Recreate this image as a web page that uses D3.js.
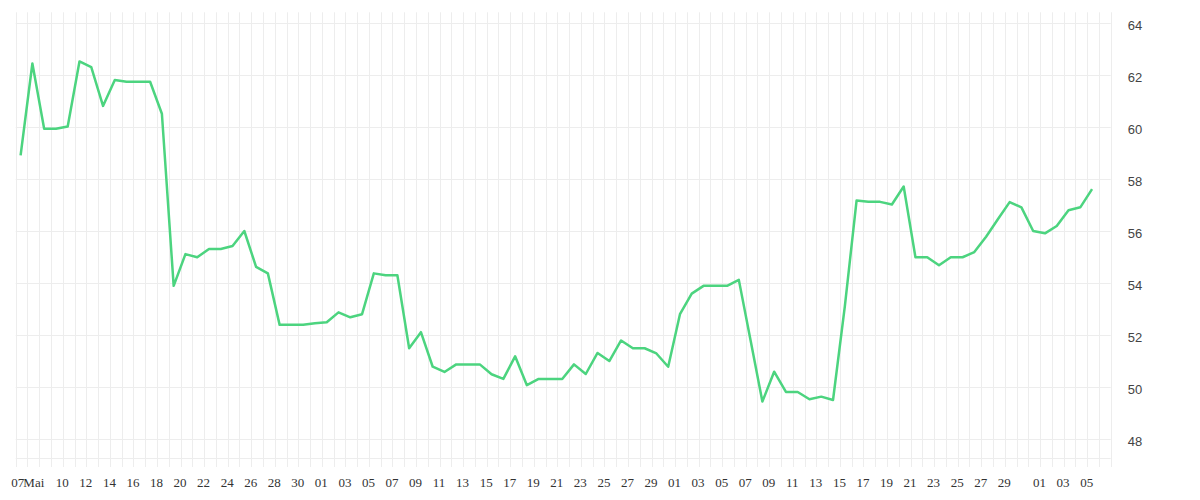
<!DOCTYPE html>
<html>
<head>
<meta charset="utf-8">
<script src="https://cdn.jsdelivr.net/npm/d3@7"></script>
<style>
  html, body { margin: 0; padding: 0; background: #fff; }
  svg { display: block; }
</style>
</head>
<body>
<svg id="svgmain" width="1200" height="500"></svg>
<script>
// one value per day, taken around mid-morning
var days = [
  "2023-05-06","2023-05-07","2023-05-08","2023-05-09","2023-05-10","2023-05-11","2023-05-12","2023-05-13",
  "2023-05-14","2023-05-15","2023-05-16","2023-05-17","2023-05-18","2023-05-19","2023-05-20","2023-05-21",
  "2023-05-22","2023-05-23","2023-05-24","2023-05-25","2023-05-26","2023-05-27","2023-05-28","2023-05-29",
  "2023-05-30","2023-05-31","2023-06-01","2023-06-02","2023-06-03","2023-06-04","2023-06-05","2023-06-06",
  "2023-06-07","2023-06-08","2023-06-09","2023-06-10","2023-06-11","2023-06-12","2023-06-13","2023-06-14",
  "2023-06-15","2023-06-16","2023-06-17","2023-06-18","2023-06-19","2023-06-20","2023-06-21","2023-06-22",
  "2023-06-23","2023-06-24","2023-06-25","2023-06-26","2023-06-27","2023-06-28","2023-06-29","2023-06-30",
  "2023-07-01","2023-07-02","2023-07-03","2023-07-04","2023-07-05","2023-07-06","2023-07-07","2023-07-08",
  "2023-07-09","2023-07-10","2023-07-11","2023-07-12","2023-07-13","2023-07-14","2023-07-15","2023-07-16",
  "2023-07-17","2023-07-18","2023-07-19","2023-07-20","2023-07-21","2023-07-22","2023-07-23","2023-07-24",
  "2023-07-25","2023-07-26","2023-07-27","2023-07-28","2023-07-29","2023-07-30","2023-07-31","2023-08-01",
  "2023-08-02","2023-08-03","2023-08-04","2023-08-05"
]
var values = [
  58.92, 62.45, 59.94, 59.94, 60.03, 62.53, 62.31, 60.82, 61.82, 61.75, 61.75, 61.75, 60.52, 53.90,
  55.12, 55.00, 55.32, 55.32, 55.43, 56.01, 54.63, 54.38, 52.40, 52.40, 52.40, 52.46, 52.50, 52.88,
  52.69, 52.81, 54.38, 54.31, 54.31, 51.50, 52.12, 50.79, 50.59, 50.88, 50.88, 50.88, 50.50, 50.32,
  51.19, 50.08, 50.32, 50.32, 50.32, 50.88, 50.51, 51.32, 51.01, 51.80, 51.50, 51.50, 51.30, 50.79,
  52.81, 53.60, 53.90, 53.90, 53.90, 54.13, 51.80, 49.45, 50.60, 49.82, 49.82, 49.54, 49.64, 49.51,
  53.10, 57.18, 57.13, 57.13, 57.03, 57.72, 55.00, 55.00, 54.69, 55.00, 55.00, 55.20, 55.79, 56.46,
  57.12, 56.92, 56.01, 55.92, 56.20, 56.81, 56.92, 57.62
]
var tickDates = [
  "2023-05-06T05:00","2023-05-07T14:00","2023-05-10","2023-05-12","2023-05-14","2023-05-16","2023-05-18",
  "2023-05-20","2023-05-22","2023-05-24","2023-05-26","2023-05-28","2023-05-30",
  "2023-06-01","2023-06-03","2023-06-05","2023-06-07","2023-06-09","2023-06-11","2023-06-13","2023-06-15",
  "2023-06-17","2023-06-19","2023-06-21","2023-06-23","2023-06-25","2023-06-27","2023-06-29",
  "2023-07-01","2023-07-03","2023-07-05","2023-07-07","2023-07-09","2023-07-11","2023-07-13","2023-07-15",
  "2023-07-17","2023-07-19","2023-07-21","2023-07-23","2023-07-25","2023-07-27","2023-07-29",
  "2023-08-01","2023-08-03","2023-08-05"
]
var tickLabels = [
  "07","Mai","10","12","14","16","18","20","22","24","26","28","30",
  "01","03","05","07","09","11","13","15","17","19","21","23","25","27","29",
  "01","03","05","07","09","11","13","15","17","19","21","23","25","27","29",
  "01","03","05"
]
var yTicks = [48, 50, 52, 54, 56, 58, 60, 62, 64]

var plotLeft = 15.7, plotRight = 1110.7, plotTop = 12.3, plotBottom = 458
var parseDay = d3.timeParse("%Y-%m-%d")
var parseTick = function(s) {
  return s.length > 10 ? d3.timeParse("%Y-%m-%dT%H:%M")(s) : parseDay(s)
}
var points = days.map(function(d, i) {
  return { date: d3.timeHour.offset(parseDay(d), 10), value: values[i] }
})

var x = d3.scaleTime()
  .domain([parseDay("2023-05-06"), parseDay("2023-08-07")])
  .range([plotLeft, plotRight])
var y = d3.scaleLinear()
  .domain([47.28, 64.42])
  .range([plotBottom, plotTop])

var svg = d3.select("#svgmain")
var grid = svg.append("g").attr("class", "grid")

// daily vertical lines, running past the baseline as tick marks
grid.selectAll("line.v")
  .data(d3.timeDay.range(x.domain()[0], d3.timeDay.offset(x.domain()[1], 1)))
  .join("line")
  .attr("class", "v")
  .attr("x1", function(d) { return Math.round(x(d)) + 0.5 })
  .attr("x2", function(d) { return Math.round(x(d)) + 0.5 })
  .attr("y1", plotTop)
  .attr("y2", plotBottom + 9)
  .attr("stroke", "#ededed")
  .attr("stroke-width", 1)

grid.selectAll("line.h")
  .data(yTicks)
  .join("line")
  .attr("class", "h")
  .attr("x1", plotLeft)
  .attr("x2", plotRight)
  .attr("y1", function(d) { return Math.round(y(d)) + 0.5 })
  .attr("y2", function(d) { return Math.round(y(d)) + 0.5 })
  .attr("stroke", "#ededed")
  .attr("stroke-width", 1)

grid.append("line")
  .attr("x1", plotLeft).attr("x2", plotRight)
  .attr("y1", Math.round(plotBottom) + 0.5).attr("y2", Math.round(plotBottom) + 0.5)
  .attr("stroke", "#ededed")

// x labels
var xAxis = d3.axisBottom(x)
  .tickValues(tickDates.map(parseTick))
  .tickFormat(function(d, i) { return tickLabels[i] })
  .tickSize(0)
  .tickPadding(20)
var gx = svg.append("g")
  .attr("transform", "translate(-1," + plotBottom + ")")
  .call(xAxis)
gx.select(".domain").remove()
gx.selectAll("text")
  .attr("font-family", "'Liberation Serif', 'Times New Roman', serif")
  .attr("font-size", 13)
  .attr("fill", "#333")

// y labels on the right
var yAxis = d3.axisRight(y)
  .tickValues(yTicks)
  .tickSize(0)
  .tickPadding(17)
var gy = svg.append("g")
  .attr("transform", "translate(" + plotRight + ",0)")
  .call(yAxis)
gy.select(".domain").remove()
gy.selectAll("text")
  .attr("dy", "0.45em")
  .attr("font-family", "'Liberation Sans', Arial, sans-serif")
  .attr("font-size", 13)
  .attr("fill", "#444")

var line = d3.line()
  .x(function(d) { return x(d.date) })
  .y(function(d) { return y(d.value) })

svg.append("path")
  .datum(points)
  .attr("d", line)
  .attr("fill", "none")
  .attr("stroke", "#4cd47f")
  .attr("stroke-width", 2.5)
  .attr("stroke-linejoin", "round")
</script>
</body>
</html>
